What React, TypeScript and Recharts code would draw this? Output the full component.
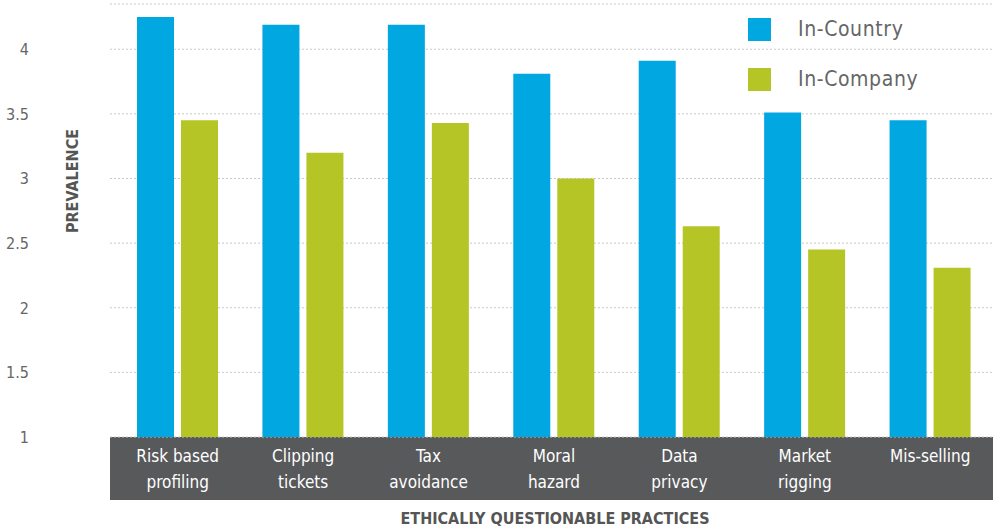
import React from "react";
import { BarChart, Bar, XAxis, YAxis, CartesianGrid, Legend } from "recharts";

const categories = [
  "Risk based\nprofiling",
  "Clipping\ntickets",
  "Tax\navoidance",
  "Moral\nhazard",
  "Data\nprivacy",
  "Market\nrigging",
  "Mis-selling"
];
const inCountry = [4.25, 4.19, 4.19, 3.81, 3.91, 3.51, 3.45];
const inCompany = [3.45, 3.2, 3.43, 3.0, 2.63, 2.45, 2.31];
const yTicks = [1, 1.5, 2, 2.5, 3, 3.5, 4];

const BLUE = "#00a7e1";
const GREEN = "#b5c526";
const FONT = "'Liberation Sans Narrow', 'DejaVu Sans Condensed', Roboto, sans-serif";

const data = categories.map((c, i) => ({
  name: c,
  country: inCountry[i],
  company: inCompany[i]
}));

function CategoryTick(props: any) {
  const { x, payload } = props;
  const lines = String(payload.value).split("\n");
  return (
    <text x={x} y={462} textAnchor="middle" fill="#ffffff" fontSize={17} fontFamily={FONT}>
      {lines.map((l, i) => (
        <tspan key={i} x={x} dy={i === 0 ? 0 : 26}>
          {l}
        </tspan>
      ))}
    </text>
  );
}

function ValueTick(props: any) {
  const { y, payload } = props;
  return (
    <text x={29} y={y} dy={6} textAnchor="end" fill="#666666" fontSize={16} fontFamily={FONT}>
      {payload.value}
    </text>
  );
}

function XTitle() {
  return (
    <text x={555} y={524} textAnchor="middle" fill="#555555" fontSize={16} fontWeight="bold" fontFamily={FONT}>
      ETHICALLY QUESTIONABLE PRACTICES
    </text>
  );
}

function YTitle() {
  return (
    <text
      x={72}
      y={181}
      transform="rotate(-90 72 181)"
      textAnchor="middle"
      dy={6}
      fill="#555555"
      fontSize={16}
      fontWeight="bold"
      fontFamily={FONT}
    >
      PREVALENCE
    </text>
  );
}

function LegendBox() {
  const items = [
    { label: "In-Country", color: BLUE },
    { label: "In-Company", color: GREEN }
  ];
  return (
    <div>
      {items.map((it) => (
        <div key={it.label} style={{ display: "flex", alignItems: "center", height: 50 }}>
          <div style={{ width: 23, height: 23, background: it.color, marginRight: 27 }} />
          <span style={{ fontFamily: FONT, fontSize: 21, color: "#666666", letterSpacing: 0.6 }}>
            {it.label}
          </span>
        </div>
      ))}
    </div>
  );
}

export default function App() {
  return (
    <div style={{ position: "relative", width: 993, height: 528, background: "#fff" }}>
      <style>{`body{margin:0}`}</style>
      <div
        style={{
          position: "absolute",
          left: 110,
          top: 437,
          width: 883,
          height: 63,
          background: "#58595b"
        }}
      />
      <div style={{ position: "absolute", left: 0, top: 0 }}>
        <BarChart
          width={993}
          height={528}
          data={data}
          margin={{ top: 4, right: 0, left: 0, bottom: 0 }}
          barSize={37}
          barGap={7}
        >
          <CartesianGrid
            vertical={false}
            stroke="#c8c8c8"
            strokeDasharray="2 2"
            x={110}
            width={883}
          />
          <XAxis
            dataKey="name"
            height={91}
            axisLine={false}
            tickLine={false}
            interval={0}
            tick={<CategoryTick />}
            label={<XTitle />}
          />
          <YAxis
            width={115}
            domain={[1, 4.35]}
            ticks={yTicks}
            axisLine={false}
            tickLine={false}
            tick={<ValueTick />}
            label={<YTitle />}
          />
          <Legend
            layout="horizontal"
            verticalAlign="middle"
            content={<LegendBox />}
            wrapperStyle={{ left: 748, top: 4, width: 240 }}
          />
          <Bar dataKey="country" name="In-Country" fill={BLUE} isAnimationActive={false} />
          <Bar dataKey="company" name="In-Company" fill={GREEN} isAnimationActive={false} />
        </BarChart>
      </div>
    </div>
  );
}
